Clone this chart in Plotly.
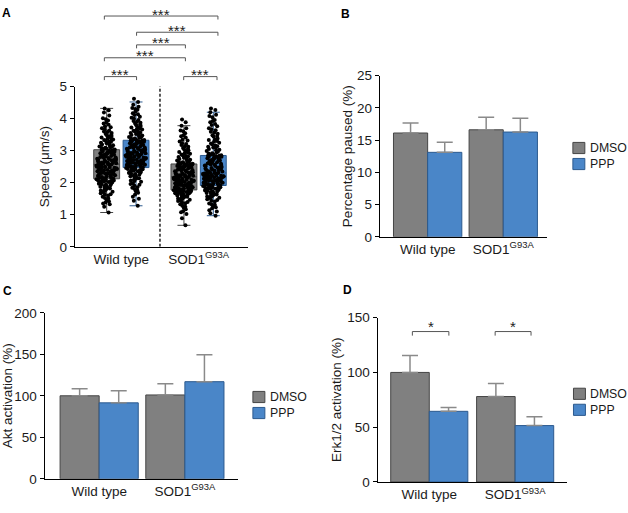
import plotly.graph_objects as go

W, H = 628, 513
FONT = "Liberation Sans, Arial, Helvetica, sans-serif"

# ---------------- data ----------------
categories = ["Wild type", "SOD1<sup>G93A</sup>"]
conditions = ["DMSO", "PPP"]
colors = {"DMSO": "#808080", "PPP": "#4a86c8"}
outlines = {"DMSO": "#454545", "PPP": "#2c5a8e"}

speed_wt_dmso = [1.07, 1.25, 1.33, 1.38, 1.42, 1.46, 1.51, 1.56, 1.60, 1.64, 1.67, 1.71, 1.74, 1.76, 1.80,
                 1.82, 1.85, 1.87, 1.89, 1.92, 1.94, 1.97, 1.98, 2.01, 2.03, 2.04, 2.06, 2.08, 2.10, 2.11,
                 2.13, 2.14, 2.16, 2.18, 2.19, 2.21, 2.23, 2.24, 2.26, 2.27, 2.29, 2.31, 2.32, 2.34, 2.35,
                 2.37, 2.39, 2.40, 2.41, 2.43, 2.45, 2.46, 2.48, 2.49, 2.50, 2.52, 2.53, 2.54, 2.55, 2.56,
                 2.58, 2.59, 2.61, 2.62, 2.64, 2.66, 2.67, 2.69, 2.70, 2.72, 2.73, 2.75, 2.77, 2.78, 2.80,
                 2.81, 2.83, 2.85, 2.86, 2.88, 2.90, 2.91, 2.93, 2.95, 2.96, 2.97, 2.99, 3.00, 3.01, 3.02,
                 3.04, 3.06, 3.09, 3.11, 3.13, 3.16, 3.19, 3.21, 3.25, 3.28, 3.31, 3.33, 3.37, 3.41, 3.44,
                 3.47, 3.52, 3.55, 3.60, 3.66, 3.70, 3.76, 3.81, 3.88, 3.94, 4.01, 4.10, 4.19, 4.26, 4.32,
                 1.35, 1.52, 1.63, 1.72, 1.78, 1.84, 1.90, 1.95, 1.99, 2.02, 2.05, 2.07, 2.09, 2.10, 2.115,
                 2.15, 2.20, 2.25, 2.28, 2.33, 2.36, 2.39, 2.42, 2.44, 2.47, 2.50, 2.51, 2.53, 2.55, 2.565,
                 2.60, 2.63, 2.65, 2.68, 2.71, 2.74, 2.76, 2.79, 2.82, 2.84, 2.87, 2.89, 2.92, 2.94, 2.98,
                 3.05, 3.08, 3.12, 3.17, 3.23, 3.29, 3.35, 3.39, 3.46, 3.50, 3.58, 3.63, 3.73, 3.85, 3.98]
speed_wt_ppp = [1.28, 1.44, 1.56, 1.63, 1.69, 1.76, 1.80, 1.86, 1.91, 1.94, 1.98, 2.03, 2.05, 2.09, 2.12,
                2.15, 2.19, 2.21, 2.23, 2.27, 2.29, 2.31, 2.34, 2.36, 2.37, 2.40, 2.42, 2.44, 2.45, 2.46,
                2.48, 2.49, 2.51, 2.53, 2.54, 2.55, 2.57, 2.59, 2.60, 2.61, 2.63, 2.65, 2.66, 2.67, 2.69,
                2.71, 2.72, 2.73, 2.75, 2.77, 2.78, 2.79, 2.81, 2.82, 2.83, 2.84, 2.85, 2.86, 2.87, 2.88,
                2.89, 2.91, 2.92, 2.94, 2.96, 2.97, 2.98, 3.00, 3.02, 3.03, 3.05, 3.07, 3.08, 3.10, 3.11,
                3.13, 3.15, 3.16, 3.18, 3.20, 3.21, 3.23, 3.24, 3.26, 3.27, 3.28, 3.29, 3.30, 3.31, 3.32,
                3.33, 3.35, 3.38, 3.41, 3.43, 3.46, 3.49, 3.52, 3.55, 3.59, 3.62, 3.66, 3.69, 3.73, 3.77,
                3.82, 3.85, 3.90, 3.96, 4.00, 4.06, 4.11, 4.17, 4.22, 4.28, 4.33, 4.37, 4.43, 4.52, 4.62,
                1.50, 1.73, 1.84, 1.96, 2.07, 2.14, 2.20, 2.25, 2.30, 2.33, 2.38, 2.41, 2.43, 2.45, 2.465,
                2.50, 2.52, 2.56, 2.58, 2.62, 2.64, 2.68, 2.70, 2.74, 2.76, 2.80, 2.81, 2.84, 2.86, 2.875,
                2.90, 2.93, 2.95, 2.99, 3.01, 3.04, 3.06, 3.09, 3.12, 3.14, 3.17, 3.19, 3.22, 3.25, 3.30,
                3.34, 3.37, 3.42, 3.47, 3.51, 3.57, 3.61, 3.67, 3.72, 3.79, 3.87, 3.93, 4.03, 4.14, 4.30]
speed_sod_dmso = [0.67, 0.89, 1.02, 1.11, 1.17, 1.22, 1.28, 1.33, 1.36, 1.40, 1.43, 1.47, 1.49, 1.52, 1.54,
                  1.57, 1.59, 1.61, 1.63, 1.65, 1.67, 1.68, 1.70, 1.71, 1.72, 1.73, 1.74, 1.75, 1.76, 1.77,
                  1.78, 1.79, 1.81, 1.82, 1.84, 1.86, 1.87, 1.88, 1.90, 1.91, 1.93, 1.95, 1.96, 1.97, 1.99,
                  2.00, 2.02, 2.03, 2.05, 2.07, 2.08, 2.09, 2.10, 2.12, 2.13, 2.14, 2.15, 2.16, 2.17, 2.18,
                  2.19, 2.20, 2.22, 2.24, 2.25, 2.26, 2.28, 2.30, 2.31, 2.32, 2.34, 2.36, 2.37, 2.38, 2.40,
                  2.42, 2.43, 2.44, 2.46, 2.47, 2.49, 2.50, 2.51, 2.53, 2.54, 2.55, 2.56, 2.57, 2.57, 2.58,
                  2.59, 2.61, 2.64, 2.66, 2.69, 2.71, 2.74, 2.78, 2.80, 2.83, 2.86, 2.90, 2.92, 2.96, 3.01,
                  3.04, 3.08, 3.14, 3.18, 3.23, 3.29, 3.34, 3.41, 3.48, 3.54, 3.61, 3.70, 3.78, 3.89, 3.97,
                  1.08, 1.25, 1.38, 1.45, 1.51, 1.56, 1.60, 1.64, 1.66, 1.69, 1.71, 1.73, 1.745, 1.755, 1.765,
                  1.80, 1.83, 1.85, 1.89, 1.92, 1.94, 1.98, 2.01, 2.04, 2.06, 2.09, 2.11, 2.14, 2.16, 2.175,
                  2.21, 2.23, 2.27, 2.29, 2.33, 2.35, 2.39, 2.41, 2.45, 2.48, 2.50, 2.52, 2.54, 2.56, 2.575,
                  2.60, 2.63, 2.67, 2.72, 2.76, 2.82, 2.88, 2.94, 2.99, 3.06, 3.12, 3.21, 3.32, 3.45, 3.63]
speed_sod_ppp = [0.97, 1.05, 1.14, 1.20, 1.26, 1.31, 1.35, 1.41, 1.44, 1.48, 1.52, 1.55, 1.59, 1.61, 1.64,
                 1.66, 1.69, 1.71, 1.73, 1.75, 1.77, 1.79, 1.81, 1.83, 1.84, 1.86, 1.87, 1.88, 1.89, 1.90,
                 1.92, 1.93, 1.95, 1.96, 1.98, 2.00, 2.01, 2.02, 2.04, 2.05, 2.07, 2.09, 2.10, 2.11, 2.13,
                 2.14, 2.16, 2.17, 2.19, 2.20, 2.21, 2.22, 2.23, 2.24, 2.25, 2.26, 2.27, 2.28, 2.29, 2.30,
                 2.31, 2.33, 2.35, 2.38, 2.39, 2.41, 2.43, 2.46, 2.47, 2.49, 2.51, 2.54, 2.55, 2.57, 2.59,
                 2.61, 2.63, 2.66, 2.67, 2.69, 2.71, 2.73, 2.75, 2.77, 2.78, 2.80, 2.81, 2.82, 2.83, 2.84,
                 2.86, 2.89, 2.92, 2.95, 2.99, 3.01, 3.05, 3.09, 3.12, 3.16, 3.20, 3.25, 3.28, 3.33, 3.38,
                 3.44, 3.48, 3.53, 3.59, 3.64, 3.70, 3.76, 3.83, 3.89, 3.96, 4.04, 4.12, 4.20, 4.27, 4.32,
                 1.10, 1.23, 1.33, 1.46, 1.53, 1.57, 1.63, 1.68, 1.72, 1.76, 1.80, 1.82, 1.85, 1.88, 1.905,
                 1.94, 1.97, 2.00, 2.03, 2.06, 2.08, 2.12, 2.15, 2.18, 2.20, 2.22, 2.24, 2.26, 2.28, 2.295,
                 2.32, 2.36, 2.40, 2.44, 2.48, 2.52, 2.56, 2.60, 2.64, 2.68, 2.72, 2.76, 2.79, 2.81, 2.84,
                 2.87, 2.91, 2.97, 3.03, 3.10, 3.14, 3.22, 3.30, 3.36, 3.46, 3.56, 3.67, 3.80, 3.93, 4.08]

# Panel B: percentage paused (%)
paused_dmso = [16.1, 16.6]
paused_dmso_err = [1.55, 1.95]
paused_ppp = [13.1, 16.25]
paused_ppp_err = [1.55, 2.15]

# Panel C: Akt activation (%)
akt_dmso = [100, 101]
akt_dmso_err = [8.5, 13.5]
akt_ppp = [91.5, 117]
akt_ppp_err = [14.5, 32.5]

# Panel D: Erk1/2 activation (%)
erk_dmso = [100, 78]
erk_dmso_err = [15.5, 12]
erk_ppp = [64.5, 51.5]
erk_ppp_err = [3.5, 8]

# ---------------- layout geometry (pixels) ----------------
def px(x):
    return x / W

def py(y):
    return 1 - y / H

dom = {
    "A": dict(x=(73, 247), y=(82, 247)),
    "B": dict(x=(379, 547), y=(70.7, 236.7)),
    "C": dict(x=(42.7, 236.7), y=(315, 486)),
    "D": dict(x=(376.7, 567), y=(320, 489.3)),
}

xr = {"A": [0.397, 2.642], "B": [-0.633, 1.582], "C": [-0.637, 1.619], "D": [-0.603, 1.606]}
bw = {"B": 0.452, "C": 0.456, "D": 0.449}
TICK = 13.5

fig = go.Figure()

# ---------------- Panel A: box plots with all points ----------------
box_sets = [
    (speed_wt_dmso, 0.81, "DMSO"),
    (speed_wt_ppp, 1.19, "PPP"),
    (speed_sod_dmso, 1.81, "DMSO"),
    (speed_sod_ppp, 2.19, "PPP"),
]
for vals, pos, cond in box_sets:
    fig.add_trace(go.Box(
        y=vals, x0=pos, width=0.335, name=cond,
        boxpoints="all", jitter=0.8, pointpos=0,
        marker=dict(color="black", size=4, line=dict(width=0)),
        fillcolor=colors[cond], line=dict(color=outlines[cond], width=1),
        showlegend=False, hoverinfo="y", xaxis="x", yaxis="y",
    ))

# ---------------- bar panels ----------------
panels = [
    ("B", "x2", "y2", paused_dmso, paused_dmso_err, paused_ppp, paused_ppp_err),
    ("C", "x3", "y3", akt_dmso, akt_dmso_err, akt_ppp, akt_ppp_err),
    ("D", "x4", "y4", erk_dmso, erk_dmso_err, erk_ppp, erk_ppp_err),
]
for key, xa, ya, dv, de, pv, pe in panels:
    for cond, vals, errs, off in (("DMSO", dv, de, -bw[key]), ("PPP", pv, pe, 0.0)):
        fig.add_trace(go.Bar(
            x=categories, y=vals, name=cond, width=bw[key], offset=off,
            marker=dict(color=colors[cond], line=dict(color=outlines[cond], width=1)),
            error_y=dict(type="data", array=errs, arrayminus=[0] * len(errs), symmetric=False,
                         color="#8a8a8a", thickness=1.5, width=8),
            showlegend=False, xaxis=xa, yaxis=ya,
        ))

axis_common = dict(showline=True, linecolor="black", linewidth=1, showgrid=False, zeroline=False,
                   tickfont=dict(size=TICK, color="#1a1a1a", family=FONT))

def xdom(k):
    return [px(dom[k]["x"][0]), px(dom[k]["x"][1])]

def ydom(k):
    return [py(dom[k]["y"][1]), py(dom[k]["y"][0])]

def ytitle(text, standoff):
    return dict(text=text, font=dict(size=13.5, family=FONT, color="#1a1a1a"), standoff=standoff)

layout = dict(
    width=W, height=H, margin=dict(l=0, r=0, t=0, b=0),
    paper_bgcolor="white", plot_bgcolor="white",
    font=dict(family=FONT, size=13, color="#1a1a1a"),
    boxmode="overlay", barmode="overlay", showlegend=False,
    xaxis=dict(domain=xdom("A"), anchor="y", range=xr["A"], tickmode="array", tickvals=[1, 2],
               ticktext=categories, ticks="", **axis_common),
    yaxis=dict(domain=ydom("A"), anchor="x", range=[0, 5], tickvals=[0, 1, 2, 3, 4, 5], ticks="outside",
               ticklen=4, tickcolor="black", title=ytitle("Speed (μm/s)", 6), **axis_common),
    xaxis2=dict(domain=xdom("B"), anchor="y2", type="category", range=xr["B"], ticks="", **axis_common),
    yaxis2=dict(domain=ydom("B"), anchor="x2", range=[0, 25], tickvals=[0, 5, 10, 15, 20, 25],
                ticks="outside", ticklen=4, tickcolor="black",
                title=ytitle("Percentage paused (%)", 1), **axis_common),
    xaxis3=dict(domain=xdom("C"), anchor="y3", type="category", range=xr["C"], ticks="", **axis_common),
    yaxis3=dict(domain=ydom("C"), anchor="x3", range=[0, 200], tickvals=[0, 50, 100, 150, 200],
                ticks="outside", ticklen=4, tickcolor="black",
                title=ytitle("Akt activation (%)", 5), **axis_common),
    xaxis4=dict(domain=xdom("D"), anchor="y4", type="category", range=xr["D"], ticks="", **axis_common),
    yaxis4=dict(domain=ydom("D"), anchor="x4", range=[0, 150], tickvals=[0, 50, 100, 150],
                ticks="outside", ticklen=4, tickcolor="black",
                title=ytitle("Erk1/2 activation (%)", 2), **axis_common),
)
fig.update_layout(**layout)

shapes = []
annotations = []

# dashed separator in panel A
shapes.append(dict(type="line", xref="x", yref="y", x0=1.5, x1=1.5, y0=0, y1=5.03,
                   line=dict(color="black", width=1.3, dash="3px,2px")))

# significance brackets above panel A (drawn in paper space above the plot area)
def a_xpaper(v):
    x0, x1 = dom["A"]["x"]
    r0, r1 = xr["A"]
    return px(x0 + (v - r0) / (r1 - r0) * (x1 - x0))

brackets_a = [  # (left, right, line y px, star y px)
    (0.78, 2.25, 9.3, 8.0),
    (1.197, 2.25, 26.0, 24.0),
    (1.197, 1.829, 39.0, 37.0),
    (0.78, 1.829, 52.3, 50.3),
    (0.78, 1.197, 71.7, 69.7),
    (1.807, 2.238, 71.7, 69.7),
]
for l, r, ly, sy in brackets_a:
    xl, xrr = a_xpaper(l), a_xpaper(r)
    y0, y1 = py(ly + 3.6), py(ly)
    shapes.append(dict(type="path", xref="paper", yref="paper",
                       path=f"M {xl},{y0} L {xl},{y1} L {xrr},{y1} L {xrr},{y0}",
                       line=dict(color="#555555", width=1)))
    annotations.append(dict(xref="paper", yref="paper", x=(xl + xrr) / 2, y=py(sy), text="***",
                            showarrow=False, xanchor="center", yanchor="middle",
                            font=dict(size=15, color="#222222")))

# significance brackets in panel D
for l, r in ((-0.197, 0.228), (0.767, 1.185)):
    shapes.append(dict(type="path", xref="x4", yref="y4",
                       path=f"M {l},133.6 L {l},137.3 L {r},137.3 L {r},133.6",
                       line=dict(color="#555555", width=1)))
    annotations.append(dict(xref="x4", yref="y4", x=(l + r) / 2, y=137.6, text="*", showarrow=False,
                            xanchor="center", yanchor="bottom", yshift=-6,
                            font=dict(size=15, color="#222222")))

# manual legends for B, C, D
legend_pos = {"B": (572.7, 139.5), "C": (251.7, 396.0), "D": (573.3, 392.7)}
for k, (lx, ly) in legend_pos.items():
    for i, cond in enumerate(conditions):
        top = ly + i * 16.5
        shapes.append(dict(type="rect", xref="paper", yref="paper",
                           x0=px(lx), x1=px(lx + 12), y0=py(top + 11.5), y1=py(top),
                           fillcolor=colors[cond], line=dict(color=outlines[cond], width=1)))
        annotations.append(dict(xref="paper", yref="paper", x=px(lx + 15), y=py(top + 5.8),
                                text=cond, showarrow=False, xanchor="left", yanchor="middle",
                                font=dict(size=12.3, color="#1a1a1a")))

# panel letters
for letter, (lx, ly) in {"A": (5, 6.5), "B": (345, 7), "C": (6, 292.5), "D": (347, 292)}.items():
    annotations.append(dict(xref="paper", yref="paper", x=px(lx), y=py(ly), text=f"<b>{letter}</b>",
                            showarrow=False, xanchor="center", yanchor="middle",
                            font=dict(size=12, color="black")))

fig.update_layout(shapes=shapes, annotations=annotations)

fig.write_html("out.html", config={"displayModeBar": False},
               post_script="document.body.style.margin='0';")
